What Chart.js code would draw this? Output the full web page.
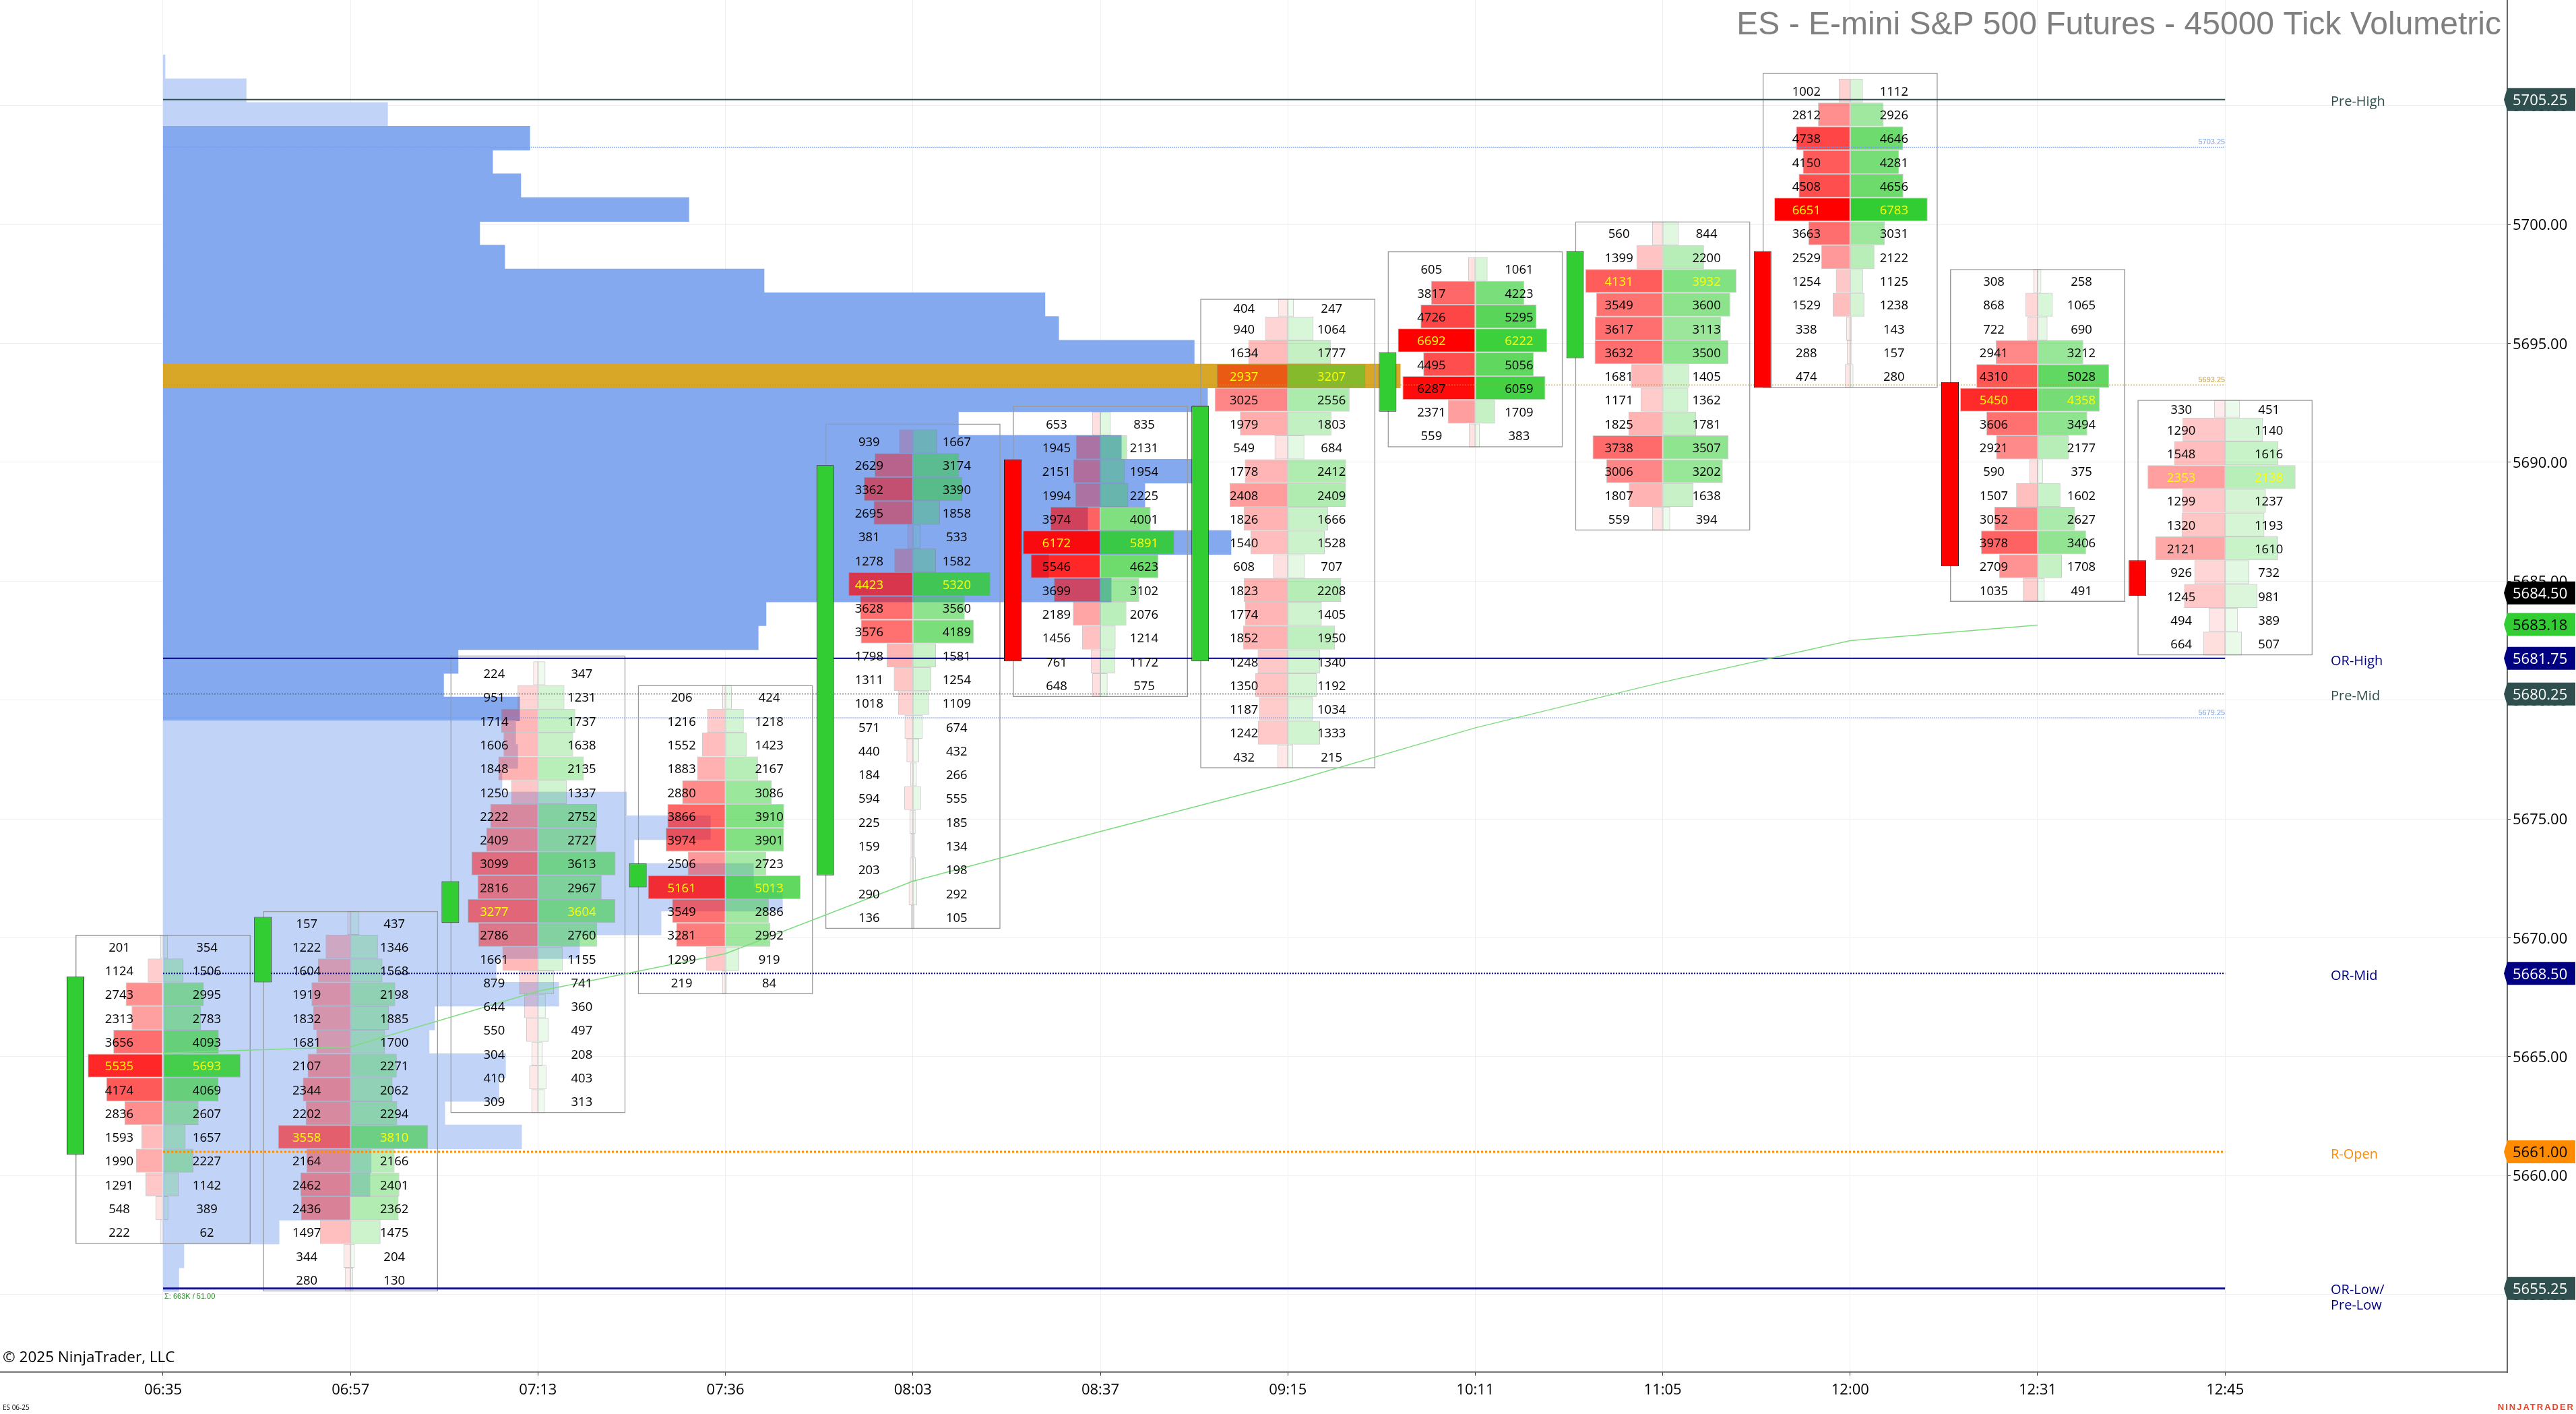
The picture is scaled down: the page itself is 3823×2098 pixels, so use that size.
<!DOCTYPE html>
<html><head><meta charset="utf-8"><title>ES - E-mini S&amp;P 500 Futures - 45000 Tick Volumetric</title>
<style>html,body{margin:0;padding:0;background:#fff;overflow:hidden}canvas{display:block}</style>
<script src="https://cdn.jsdelivr.net/npm/chart.js@4/dist/chart.umd.min.js"></script>
</head><body><canvas id="c" width="3823" height="2098"></canvas>
<script>
// ---------- data ----------
const times=['06:35','06:57','07:13','07:36','08:03','08:37','09:15','10:11','11:05','12:00','12:31','12:45'];
const priceTicks=[5655,5660,5665,5670,5675,5680,5685,5690,5695,5700,5705];
const candleOpen=[5660.875,5668.125,5670.625,5672.125,5672.625,5690.125,5681.625,5692.125,5694.375,5698.875,5693.375,5685.875];
const candleClose=[5668.375,5670.875,5672.375,5673.125,5689.875,5681.625,5692.375,5694.625,5698.875,5693.125,5685.625,5684.375];
const rowBottom=[5657.125,5655.125,5662.625,5667.625,5670.375,5680.125,5677.125,5690.625,5687.125,5693.125,5684.125,5681.875];
const boxTop=[5670.125,5671.125,5681.875,5680.625,5691.625,5692.375,5696.875,5698.875,5700.125,5706.375,5698.125,5692.625];
const bid0=[201,1124,2743,2313,3656,5535,4174,2836,1593,1990,1291,548,222];
const ask0=[354,1506,2995,2783,4093,5693,4069,2607,1657,2227,1142,389,62];
const bid1=[157,1222,1604,1919,1832,1681,2107,2344,2202,3558,2164,2462,2436,1497,344,280];
const ask1=[437,1346,1568,2198,1885,1700,2271,2062,2294,3810,2166,2401,2362,1475,204,130];
const bid2=[224,951,1714,1606,1848,1250,2222,2409,3099,2816,3277,2786,1661,879,644,550,304,410,309];
const ask2=[347,1231,1737,1638,2135,1337,2752,2727,3613,2967,3604,2760,1155,741,360,497,208,403,313];
const bid3=[206,1216,1552,1883,2880,3866,3974,2506,5161,3549,3281,1299,219];
const ask3=[424,1218,1423,2167,3086,3910,3901,2723,5013,2886,2992,919,84];
const bid4=[939,2629,3362,2695,381,1278,4423,3628,3576,1798,1311,1018,571,440,184,594,225,159,203,290,136];
const ask4=[1667,3174,3390,1858,533,1582,5320,3560,4189,1581,1254,1109,674,432,266,555,185,134,198,292,105];
const bid5=[653,1945,2151,1994,3974,6172,5546,3699,2189,1456,761,648];
const ask5=[835,2131,1954,2225,4001,5891,4623,3102,2076,1214,1172,575];
const bid6=[404,940,1634,2937,3025,1979,549,1778,2408,1826,1540,608,1823,1774,1852,1248,1350,1187,1242,432];
const ask6=[247,1064,1777,3207,2556,1803,684,2412,2409,1666,1528,707,2208,1405,1950,1340,1192,1034,1333,215];
const bid7=[605,3817,4726,6692,4495,6287,2371,559];
const ask7=[1061,4223,5295,6222,5056,6059,1709,383];
const bid8=[560,1399,4131,3549,3617,3632,1681,1171,1825,3738,3006,1807,559];
const ask8=[844,2200,3932,3600,3113,3500,1405,1362,1781,3507,3202,1638,394];
const bid9=[1002,2812,4738,4150,4508,6651,3663,2529,1254,1529,338,288,474];
const ask9=[1112,2926,4646,4281,4656,6783,3031,2122,1125,1238,143,157,280];
const bid10=[308,868,722,2941,4310,5450,3606,2921,590,1507,3052,3978,2709,1035];
const ask10=[258,1065,690,3212,5028,4358,3494,2177,375,1602,2627,3406,1708,491];
const bid11=[330,1290,1548,2353,1299,1320,2121,926,1245,494,664];
const ask11=[451,1140,1616,2138,1237,1193,1610,732,981,389,507];
const bids=[bid0,bid1,bid2,bid3,bid4,bid5,bid6,bid7,bid8,bid9,bid10,bid11];
const asks=[ask0,ask1,ask2,ask3,ask4,ask5,ask6,ask7,ask8,ask9,ask10,ask11];
// session volume profile, top row first (row floor price, volume)
const profileTopRow=5706;
const profileVolume=[50,2120,5730,9360,8410,9130,13420,8080,8720,15340,22510,22860,26320,31580,26660,20300,24460,26400,25060,23600,27260,22600,24200,15390,15190,7530,7160,9100,9000,9050,8650,11830,13970,12020,15070,15810,12710,10630,8500,10100,6930,6790,8740,8570,7190,9150,5310,5280,4760,2960,530,400];
const vwap=[5665.16,5665.41,5667.75,5669.33,5672.38,5674.47,5676.53,5678.83,5680.75,5682.5,5683.15];
const levelPrices=[5705.25,5703.25,5693.25,5681.75,5680.25,5679.25,5668.5,5661,5655.25];
const levelColors=['#2f4f4f','#6f9af0','#c8961e','#000080','#2f4f4f','#6f9af0','#000080','#ff8c00','#14148c'];
const levelWidths=[2,1,1,2,1,1,2,3,3];
const levelDashes=[[],[2,1],[2,2],[],[2,2],[2,1],[2,2],[3,3],[]];
const levelNames=['Pre-High','OR-High','Pre-Mid','OR-Mid','R-Open','OR-Low/','Pre-Low'];
const levelNamePrices=[5705.25,5681.75,5680.25,5668.5,5661,5655.25,5655.25];
const levelNameColors=['#2f4f4f','#000080','#2f4f4f','#000080','#ff8c00','#000080','#000080'];
const tagPrices=[5705.25,5684.5,5683.18,5681.75,5680.25,5668.5,5661,5655.25];
const tagFills=['#2f4f4f','#000000','#32cd32','#000080','#2f4f4f','#000080','#ff8c00','#2f4f4f'];
const tagInks=['#fff','#fff','#000','#fff','#fff','#fff','#000','#fff'];

// ---------- geometry ----------
const W=3823,H=2098,plotR=3721,plotB=2036,x0Px=242,slotPx=278.2,yRefPx=333,ptPx=35.28;
const yMax=5700+yRefPx/ptPx,yMin=5700-(plotB-yRefPx)/ptPx;
const cellSlots=115/slotPx,labelSlots=65/slotPx,candleSlots=130/slotPx,profileSlots=1836/slotPx;
const red=a=>`rgba(255,0,0,${a})`,green=a=>`rgba(50,205,50,${a})`;
const tint=v=>Math.min(1,0.03+v/6783);
const cellBorder='rgba(120,120,120,0.38)';
const FONT='"Open Sans"';

// ---------- datasets ----------
const datasets=[];
const pocVol=Math.max(...profileVolume);
datasets.push({type:'bar',indexAxis:'y',order:100,grouped:false,barThickness:ptPx,inflateAmount:0.5,borderWidth:0,
  backgroundColor:profileVolume.map((v,k)=>{const n=profileTopRow-k;return v===pocVol?'#d9a728':(n<5679||n>5703)?'#c1d4f7':'#84a9ef';}),
  data:profileVolume.map((v,k)=>({x:[0,v/pocVol*profileSlots],y:profileTopRow-k+0.625}))});
datasets.push({type:'bar',indexAxis:'x',order:90,grouped:false,barThickness:260,backgroundColor:'rgba(0,0,0,0)',borderColor:'#9a9a9a',borderWidth:1.5,borderSkipped:false,inflateAmount:0,
  data:times.map((t,i)=>({x:i,y:[rowBottom[i],boxTop[i]]}))});
const cellLabels=[];
bids.forEach((bid,i)=>{
  const ask=asks[i],mx=Math.max(...bid,...ask),rows=bid.length,top=rowBottom[i]+rows;
  const trim=boxTop[i]<top;
  let best=0,bestSum=-1;bid.forEach((b,k)=>{if(b+ask[k]>bestSum){bestSum=b+ask[k];best=k;}});
  const centre=k=>(k===0&&trim)?(boxTop[i]+top-1)/2:top-k-0.5;
  bid.forEach((b,k)=>cellLabels.push({i,p:centre(k),b,a:ask[k],hi:k===best}));
  const from=trim?1:0;
  const add=(vals,sign,col,start,end,th)=>datasets.push({type:'bar',indexAxis:'y',order:80,grouped:false,barThickness:th,borderWidth:1,borderColor:cellBorder,borderSkipped:false,inflateAmount:0,
    backgroundColor:vals.slice(start,end).map(v=>col(tint(v))),
    data:vals.slice(start,end).map((v,k)=>({x:[i,i+sign*v/mx*cellSlots],y:centre(k+start)}))});
  add(bid,-1,red,from,rows,ptPx);add(ask,1,green,from,rows,ptPx);
  if(trim){const th=(boxTop[i]-(top-1))*ptPx;add(bid,-1,red,0,1,th);add(ask,1,green,0,1,th);}
});
levelPrices.forEach((p,k)=>datasets.push({type:'line',order:60,data:[{x:0,y:p},{x:times.length-1,y:p}],borderColor:levelColors[k],borderWidth:levelWidths[k],borderDash:levelDashes[k],pointRadius:0,fill:false,tension:0,borderCapStyle:'butt'}));
datasets.push({type:'line',order:55,data:vwap.map((p,i)=>({x:i,y:p})),borderColor:'#7ddc7d',borderWidth:1.5,pointRadius:0,fill:false,tension:0});
datasets.push({type:'bar',indexAxis:'x',order:50,grouped:false,barThickness:26,borderWidth:1,borderColor:'#222',borderSkipped:false,inflateAmount:0,
  backgroundColor:times.map((t,i)=>candleClose[i]>candleOpen[i]?'#32cd32':'#ff0000'),
  data:times.map((t,i)=>({x:i-candleSlots,y:[candleOpen[i],candleClose[i]]}))});

// ---------- texts and price tags ----------
const texts={id:'texts',afterDatasetsDraw(chart){
  const {ctx,scales:{x,y}}=chart;ctx.save();ctx.textBaseline='middle';
  ctx.font=`18.5px ${FONT}`;ctx.textAlign='center';
  cellLabels.forEach(c=>{ctx.fillStyle=c.hi?'#ffff00':'#000';const py=y.getPixelForValue(c.p)+2;
    ctx.fillText(String(c.b),x.getPixelForValue(c.i-labelSlots),py);
    ctx.fillText(String(c.a),x.getPixelForValue(c.i+labelSlots),py);});
  // level names
  ctx.textAlign='left';ctx.font=`20px ${FONT}`;
  const xName=3459;
  levelNames.forEach((n,k)=>{ctx.fillStyle=levelNameColors[k];
    let py=y.getPixelForValue(levelNamePrices[k])+4;
    if(n==='OR-Low/')py=1914; if(n==='Pre-Low')py=1937;
    ctx.fillText(n,xName,py);});
  // small price notes at the end of the naked-POC lines
  ctx.font='11px "Liberation Sans"';ctx.textAlign='right';
  [[1,'#7aa2f0'],[2,'#c8a040'],[5,'#7aa2f0']].forEach(([k,col])=>{ctx.fillStyle=col;
    ctx.fillText(levelPrices[k].toFixed(2),x.getPixelForValue(times.length-1),y.getPixelForValue(levelPrices[k])-7);});
  // tags on the price axis
  ctx.textAlign='left';
  tagPrices.forEach((p,k)=>{const py=y.getPixelForValue(p);
    ctx.beginPath();ctx.moveTo(3716,py);ctx.lineTo(3721,py-17);ctx.lineTo(3822,py-17);ctx.lineTo(3822,py+17);ctx.lineTo(3721,py+17);ctx.closePath();
    ctx.fillStyle=tagFills[k];ctx.fill();
    ctx.fillStyle=tagInks[k];ctx.font=`22px ${FONT}`;ctx.fillText(p.toFixed(2),3729,py+2);});
  // frame texts
  ctx.textAlign='right';ctx.fillStyle='#808080';ctx.font='48px "Liberation Sans"';
  ctx.fillText('ES - E-mini S&P 500 Futures - 45000 Tick Volumetric',3712,38);
  ctx.textAlign='left';ctx.fillStyle='#000';ctx.font=`22.5px ${FONT}`;
  ctx.fillText('\u00A9 2025 NinjaTrader, LLC',4,2015);
  ctx.font=`10px ${FONT}`;ctx.fillText('ES 06-25',4,2089);
  ctx.fillStyle='#2e8b2e';ctx.font='11px "Liberation Sans"';ctx.fillText('\u03A3: 663K / 51.00',244,1924);
  ctx.textAlign='right';ctx.fillStyle='#e8452a';ctx.font='bold 13px "Liberation Sans"';
  ctx.letterSpacing='2px';ctx.fillText('NINJATRADER',3821,2088);ctx.letterSpacing='0px';
  ctx.restore();
}};
const noPad=s=>{s.paddingTop=0;s.paddingBottom=0;s.paddingLeft=0;s.paddingRight=0;};

new Chart(document.getElementById('c').getContext('2d'),{type:'bar',data:{datasets},plugins:[texts],options:{
  responsive:false,animation:false,devicePixelRatio:1,events:[],layout:{padding:0},
  plugins:{legend:{display:false},tooltip:{enabled:false},title:{display:false}},
  scales:{
    x:{type:'linear',offset:false,min:-x0Px/slotPx,max:(plotR-x0Px)/slotPx,position:'bottom',
      afterBuildTicks:s=>{s.ticks=times.map((t,i)=>({value:i}));},
      afterFit:s=>{s.height=H-plotB;noPad(s);},
      grid:{offset:false,color:'#efefef',lineWidth:1,tickColor:'#333',tickLength:5,drawTicks:true},
      border:{color:'#222',width:1.5},
      ticks:{autoSkip:false,maxRotation:0,minRotation:0,padding:9,color:'#000',font:{family:'Open Sans',size:22},callback:v=>times[v]}},
    y:{type:'linear',offset:false,min:yMin,max:yMax,position:'right',
      afterBuildTicks:s=>{s.ticks=priceTicks.map(v=>({value:v}));},
      afterFit:s=>{s.width=W-plotR;noPad(s);},
      grid:{offset:false,color:'#efefef',lineWidth:1,tickColor:'#333',tickLength:5,drawTicks:true},
      border:{color:'#666',width:2},
      ticks:{padding:3,labelOffset:2,color:'#000',font:{family:'Open Sans',size:22},callback:v=>v.toFixed(2)}}
  }}});
</script></body></html>
